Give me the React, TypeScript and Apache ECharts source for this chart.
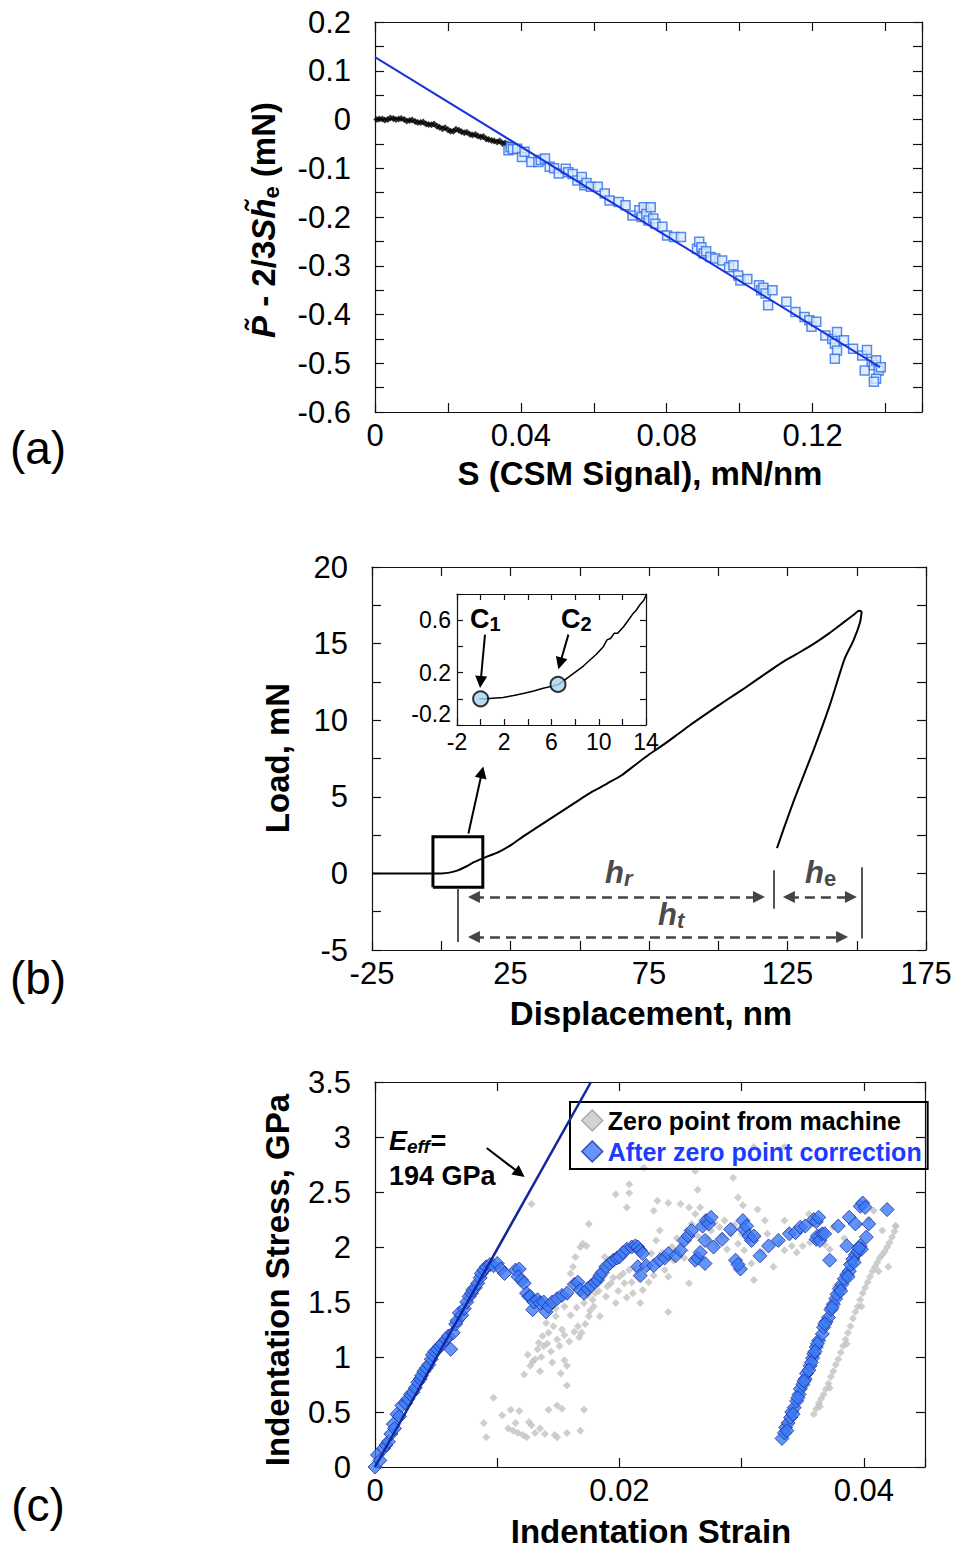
import React, { useEffect, useRef } from 'react';
import * as echarts from 'echarts';

const FONT = "'Liberation Sans', Arial, Helvetica, sans-serif";

// ---------- Panel (a) ----------
const aRawBlack1 = [
  [0.0005, 0.0], [0.002, 0.001], [0.0035, 0.0], [0.005, 0.002], [0.0065, 0.001], [0.008, 0.0],
  [0.0095, -0.002], [0.011, -0.004], [0.0125, -0.006], [0.014, -0.009], [0.0155, -0.011],
  [0.017, -0.014], [0.0185, -0.019], [0.02, -0.021], [0.0215, -0.024], [0.023, -0.022],
  [0.0245, -0.027], [0.026, -0.03], [0.0275, -0.031], [0.029, -0.036], [0.0305, -0.04],
  [0.032, -0.043], [0.0335, -0.046], [0.035, -0.049], [0.0365, -0.051], [0.0375, -0.05],
];
const aRawBlack2 = [
  [0.0012, 0.001], [0.0027, -0.001], [0.0042, 0.003], [0.0057, 0.0], [0.0072, 0.002], [0.0087, -0.003],
  [0.0102, -0.001], [0.0117, -0.006], [0.0132, -0.005], [0.0147, -0.01], [0.0162, -0.009],
  [0.0177, -0.016], [0.0192, -0.017], [0.0207, -0.024], [0.0222, -0.02], [0.0237, -0.025],
  [0.0252, -0.026], [0.0267, -0.032], [0.0282, -0.034], [0.0297, -0.035], [0.0312, -0.041],
  [0.0327, -0.044], [0.0342, -0.044], [0.0357, -0.048], [0.037, -0.053],
];
const aCorrected = [
  [0.0366, -0.063], [0.0372, -0.057], [0.0378, -0.061], [0.039, -0.06], [0.0403, -0.077], [0.041, -0.066],
  [0.0429, -0.087], [0.0448, -0.087], [0.0455, -0.083], [0.0466, -0.08], [0.0479, -0.097], [0.0491, -0.1],
  [0.0504, -0.111], [0.0523, -0.101], [0.053, -0.108], [0.0542, -0.112], [0.0555, -0.125], [0.0567, -0.118],
  [0.0574, -0.135], [0.058, -0.13], [0.0592, -0.138], [0.0611, -0.138], [0.063, -0.152], [0.0643, -0.166],
  [0.0668, -0.169], [0.0687, -0.176], [0.0706, -0.197], [0.0725, -0.186], [0.0731, -0.2], [0.0737, -0.18],
  [0.0744, -0.194], [0.075, -0.207], [0.0756, -0.18], [0.0763, -0.203], [0.0769, -0.214], [0.0788, -0.22],
  [0.0801, -0.238], [0.082, -0.241], [0.0839, -0.241], [0.0883, -0.265], [0.0889, -0.251], [0.0895, -0.262],
  [0.0901, -0.275], [0.0908, -0.27], [0.092, -0.282], [0.0933, -0.285], [0.0952, -0.289], [0.0971, -0.303],
  [0.0983, -0.299], [0.0996, -0.32], [0.1002, -0.33], [0.1021, -0.327], [0.1053, -0.34], [0.1059, -0.35],
  [0.1065, -0.345], [0.1071, -0.357], [0.1078, -0.381], [0.109, -0.35], [0.1128, -0.374], [0.1153, -0.395],
  [0.1178, -0.405], [0.1191, -0.412], [0.1197, -0.425], [0.121, -0.415], [0.1235, -0.443], [0.1254, -0.45],
  [0.1261, -0.46], [0.1267, -0.436], [0.1267, -0.474], [0.1261, -0.491], [0.1286, -0.453], [0.1311, -0.47],
  [0.1336, -0.484], [0.1349, -0.473], [0.1343, -0.515], [0.1362, -0.497], [0.1368, -0.504], [0.1374, -0.494],
  [0.1381, -0.515], [0.1374, -0.532], [0.1368, -0.538], [0.1387, -0.508],
];
const aFitLine = [[0, 0.128], [0.1385, -0.508]];

// ---------- Panel (b) ----------
const bLoadCurve = [
  [-25, 0], [-15, 0], [-5, 0], [0, 0], [3, 0.05], [6, 0.2], [9, 0.45], [12, 0.75], [15, 0.98], [18, 1.2],
  [21, 1.42], [25, 1.83], [30, 2.47], [35, 3.05], [40, 3.64], [45, 4.23], [50, 4.82], [55, 5.38],
  [60, 5.88], [65, 6.39], [70, 7.08], [75, 7.76], [80, 8.37], [85, 9.03], [90, 9.7], [95, 10.33],
  [100, 10.95], [105, 11.55], [110, 12.15], [115, 12.78], [120, 13.4], [125, 13.98], [130, 14.5],
  [135, 15.05], [140, 15.67], [145, 16.35], [149, 16.9], [150.8, 17.15], [151.8, 17.1],
];
const bUnloadCurve = [
  [151.8, 17.1], [151.2, 16.4], [148.8, 15.2], [145.6, 14.0], [140.3, 11.0], [134.3, 8.0],
  [127.8, 5.0], [123.8, 3.0], [121.2, 1.65],
];
const bZoomBox = [[-3, -0.9], [15, -0.9], [15, 2.4], [-3, 2.4], [-3, -0.9]];
const bZoomArrow = [[9.8, 2.6], [14.7, 6.6]];
const bHrArrow = [[11.8, -1.54], [114.7, -1.54]];
const bHeArrow = [[125.5, -1.54], [147.9, -1.54]];
const bHtArrow = [[11.8, -4.15], [144.7, -4.15]];
const bMarkerLeft = [[6.0, -0.95], [6.0, -4.48]];
const bMarkerMid = [[120.1, 0.2], [120.1, -2.3]];
const bMarkerRight = [[151.9, 0.4], [151.9, -4.25]];

// inset
const iCurve = [
  [-0.1, 0.0], [0.5, 0.0], [1.0, 0.005], [1.9, 0.01], [2.8, 0.025], [3.6, 0.04], [4.5, 0.06], [5.3, 0.08],
  [6.0, 0.095], [6.6, 0.11], [7.5, 0.17], [8.1, 0.21], [8.7, 0.25], [9.3, 0.3], [9.8, 0.34], [10.4, 0.4],
  [10.7, 0.45], [11.0, 0.46], [11.3, 0.5], [11.6, 0.5], [12.1, 0.55], [12.5, 0.6], [12.9, 0.65],
  [13.2, 0.68], [13.5, 0.72], [13.8, 0.75], [14.0, 0.79],
];
const iPoints = [[0, 0.0], [6.55, 0.11]];
const iArrowC1 = [[0.37, 0.49], [0.0, 0.128]];
const iArrowC2 = [[7.43, 0.49], [6.72, 0.27]];

// ---------- Panel (c) ----------
const cGrayLow = [
  [0.0089, 0.40], [0.0091, 0.27], [0.0097, 0.63], [0.0104, 0.47], [0.0109, 0.35], [0.0111, 0.52],
  [0.0115, 0.40], [0.0118, 0.51], [0.0117, 0.31], [0.0124, 0.27], [0.0126, 0.41], [0.0131, 0.31],
  [0.0135, 0.35], [0.0142, 0.52], [0.0149, 0.56], [0.0149, 0.27], [0.0157, 0.31], [0.0153, 0.53],
  [0.0168, 0.33], [0.0171, 0.52], [0.0113, 0.33], [0.0121, 0.29], [0.0128, 0.38], [0.0147, 0.29], [0.0139, 0.30],
];
const cGrayMid = [
  [0.0122, 0.84], [0.0127, 0.92], [0.0131, 0.98], [0.0135, 0.87], [0.0133, 1.07], [0.0138, 1.10], [0.0137, 1.19],
  [0.0142, 1.22], [0.0140, 1.31], [0.0146, 1.28], [0.0148, 1.37], [0.0149, 1.16], [0.0153, 1.25], [0.0155, 1.46],
  [0.0157, 0.92], [0.0157, 0.74], [0.0158, 1.55], [0.0160, 1.76], [0.0162, 1.82], [0.0164, 1.91], [0.0168, 2.00],
  [0.0170, 2.03], [0.0173, 2.01], [0.0162, 1.67], [0.0168, 1.58], [0.0171, 1.49], [0.0175, 1.37], [0.0169, 1.22],
  [0.0166, 1.28], [0.0179, 1.46], [0.0180, 1.58], [0.0182, 1.70], [0.0186, 1.82], [0.0188, 1.91], [0.0184, 1.37],
  [0.0189, 1.55], [0.0193, 1.67], [0.0197, 1.49], [0.0200, 1.73], [0.0204, 1.67], [0.0208, 1.79], [0.0211, 1.58],
  [0.0215, 1.73], [0.0219, 1.61], [0.0222, 1.85], [0.0226, 1.94], [0.0230, 2.06], [0.0233, 2.15], [0.0237, 1.79],
  [0.0240, 1.73], [0.0244, 1.88], [0.0248, 1.97], [0.0251, 2.03], [0.0255, 2.15], [0.0259, 2.21], [0.0262, 2.30],
  [0.0266, 2.36], [0.0270, 2.27], [0.0275, 2.15], [0.0279, 2.03], [0.0282, 2.18], [0.0286, 2.24], [0.0291, 2.12],
  [0.0297, 2.03], [0.0302, 1.97], [0.0308, 1.85], [0.0310, 1.70], [0.0313, 2.09], [0.0321, 2.12], [0.0326, 1.82],
  [0.0335, 1.97], [0.0341, 2.01], [0.0350, 2.01], [0.0377, 1.64], [0.0217, 1.49], [0.0240, 1.41], [0.0257, 1.67],
  [0.0136, 1.00], [0.0141, 1.12], [0.0144, 1.05], [0.0151, 1.10], [0.0155, 1.20], [0.0159, 1.14], [0.0163, 1.23],
  [0.0167, 1.18], [0.0172, 1.30], [0.0176, 1.42], [0.0178, 1.52], [0.0183, 1.60], [0.0190, 1.64], [0.0195, 1.72],
  [0.0199, 1.60], [0.0203, 1.76], [0.0206, 1.54], [0.0210, 1.68], [0.0213, 1.80], [0.0224, 1.68], [0.0228, 1.74],
  [0.0232, 1.90], [0.0235, 1.95], [0.0243, 2.00], [0.0247, 2.08], [0.0253, 1.90], [0.0264, 2.10], [0.0268, 2.20],
  [0.0272, 2.08], [0.0278, 2.22], [0.0284, 2.10], [0.0288, 1.98], [0.0294, 2.20], [0.0300, 2.12], [0.0304, 2.08],
  [0.0317, 1.95], [0.0331, 2.04], [0.0345, 1.95], [0.0356, 2.04], [0.0364, 2.14], [0.0368, 2.02], [0.0372, 1.98],
  [0.0384, 2.08], [0.0396, 2.20], [0.0375, 2.18], [0.0145, 0.95], [0.0129, 0.96], [0.0125, 1.02], [0.0134, 1.13],
  [0.0148, 1.44], [0.0160, 1.38], [0.0165, 1.45], [0.0174, 1.56], [0.0155, 0.97], [0.0152, 0.85],
];
const cGrayHigh = [
  [0.0128, 2.39], [0.0175, 2.21], [0.0197, 2.48], [0.0206, 2.36], [0.0208, 2.49], [0.0208, 2.57], [0.0220, 2.72],
  [0.0228, 2.33], [0.0240, 2.40], [0.0250, 2.39], [0.0257, 2.36], [0.0262, 2.69], [0.0264, 2.52], [0.0293, 2.63],
  [0.0297, 2.45], [0.0310, 2.91], [0.0313, 2.34], [0.0319, 2.24], [0.0335, 2.91], [0.0335, 2.24], [0.0404, 2.25],
  [0.0408, 2.33], [0.0415, 2.15], [0.0426, 2.19], [0.0231, 2.42], [0.0301, 2.38], [0.0355, 2.30],
];
const cGrayUnload = [
  [0.0359, 0.48], [0.0361, 0.53], [0.0363, 0.58], [0.0365, 0.62], [0.0367, 0.66], [0.0369, 0.71], [0.0371, 0.76],
  [0.0373, 0.82], [0.0375, 0.87], [0.0377, 0.93], [0.0379, 0.98], [0.0381, 1.04], [0.0383, 1.10], [0.0385, 1.16],
  [0.0387, 1.22], [0.0389, 1.28], [0.0391, 1.35], [0.0393, 1.41], [0.0395, 1.46], [0.0397, 1.52], [0.0399, 1.58],
  [0.0401, 1.63], [0.0403, 1.68], [0.0405, 1.73], [0.0407, 1.78], [0.0409, 1.82], [0.0411, 1.86], [0.0413, 1.90],
  [0.0415, 1.93], [0.0417, 1.96], [0.0419, 2.00], [0.0421, 2.04], [0.0423, 2.09], [0.0425, 2.14], [0.0426, 2.19],
  [0.0420, 1.82], [0.0412, 1.78], [0.0398, 1.46], [0.0386, 1.12], [0.0372, 0.72], [0.0364, 0.55],
];
const cBlueLoad = [
  [0, 0], [0.0002, 0.11], [0.0004, 0.06], [0.0007, 0.17], [0.0009, 0.2], [0.0011, 0.23], [0.0013, 0.3],
  [0.0015, 0.39], [0.0016, 0.35], [0.0018, 0.48], [0.002, 0.46], [0.0022, 0.56], [0.0025, 0.58], [0.0027, 0.62],
  [0.0029, 0.66], [0.0031, 0.68], [0.0033, 0.72], [0.0035, 0.77], [0.0037, 0.8], [0.0038, 0.83], [0.004, 0.87],
  [0.0042, 0.9], [0.0044, 0.93], [0.0046, 0.98], [0.0047, 1.02], [0.0049, 1.05], [0.0051, 1.07], [0.0053, 1.1],
  [0.0055, 1.12], [0.0058, 1.16], [0.0062, 1.07], [0.006, 1.19], [0.0064, 1.22], [0.0066, 1.3], [0.0067, 1.33],
  [0.0069, 1.4], [0.0071, 1.38], [0.0073, 1.44], [0.0075, 1.5], [0.0077, 1.55], [0.0079, 1.58], [0.008, 1.61],
  [0.0082, 1.63], [0.0084, 1.67], [0.0086, 1.72], [0.0087, 1.76], [0.0089, 1.79], [0.0091, 1.82], [0.0094, 1.84],
  [0.0097, 1.83], [0.01, 1.85], [0.0103, 1.8], [0.0106, 1.76],
];
const cBlueYield = [
  [0.0115, 1.79], [0.0118, 1.8], [0.0117, 1.73], [0.012, 1.7], [0.0122, 1.67], [0.0124, 1.58], [0.0126, 1.55],
  [0.0127, 1.55], [0.0129, 1.43], [0.013, 1.5], [0.0133, 1.52], [0.0135, 1.49], [0.0138, 1.5], [0.014, 1.41],
  [0.0142, 1.46], [0.0145, 1.5], [0.0149, 1.53], [0.0153, 1.56], [0.0157, 1.58], [0.0163, 1.66], [0.0166, 1.68],
  [0.0168, 1.61], [0.0171, 1.58], [0.0174, 1.62], [0.0177, 1.65], [0.018, 1.68], [0.0182, 1.7], [0.0184, 1.74],
  [0.0186, 1.77], [0.0189, 1.82], [0.0192, 1.85], [0.0195, 1.88], [0.0198, 1.9], [0.02, 1.91], [0.0203, 1.95],
  [0.0206, 1.98], [0.021, 2.0], [0.0213, 2.01], [0.0215, 2.0], [0.0217, 1.97], [0.0219, 1.94], [0.0215, 1.82],
  [0.0217, 1.74], [0.0222, 1.83], [0.0228, 1.83], [0.0233, 1.88], [0.0237, 1.9], [0.024, 1.94], [0.0246, 1.92],
  [0.025, 1.97], [0.0253, 2.06], [0.0256, 2.1], [0.0259, 2.15], [0.0262, 1.88], [0.0264, 1.9], [0.0266, 1.95],
  [0.0268, 2.19], [0.0271, 2.24], [0.0273, 2.21], [0.0275, 2.27], [0.027, 2.06], [0.027, 1.85], [0.0277, 2.0],
  [0.0284, 2.07], [0.0291, 2.16], [0.0295, 1.88], [0.0299, 1.8], [0.0297, 1.84], [0.0301, 2.24], [0.0302, 2.16],
  [0.0304, 2.19], [0.0306, 2.1], [0.0308, 2.06], [0.031, 2.1], [0.0315, 1.92], [0.0322, 2.01], [0.033, 2.06],
  [0.0339, 2.12], [0.0344, 2.13], [0.0348, 2.18], [0.0352, 2.19], [0.0359, 2.25], [0.0361, 2.23], [0.0363, 2.27],
  [0.0361, 2.07], [0.0362, 2.1], [0.0364, 2.06], [0.0366, 2.12], [0.0368, 2.12], [0.0372, 1.88], [0.0379, 2.19],
  [0.0386, 2.01], [0.0388, 2.27], [0.0393, 2.21], [0.0397, 2.37], [0.0399, 2.4], [0.0401, 2.36], [0.0404, 2.21],
  [0.0402, 2.09], [0.0419, 2.34],
];
const cBlueUnload = [
  [0.0333, 0.26], [0.0335, 0.31], [0.0336, 0.36], [0.0338, 0.4], [0.034, 0.45], [0.0341, 0.5], [0.0343, 0.54],
  [0.0345, 0.6], [0.0347, 0.66], [0.0348, 0.71], [0.035, 0.75], [0.0352, 0.8], [0.0353, 0.85], [0.0356, 0.92],
  [0.0358, 0.99], [0.0359, 1.03], [0.0361, 1.09], [0.0363, 1.15], [0.0366, 1.21], [0.0367, 1.27], [0.0369, 1.32],
  [0.0371, 1.36], [0.0373, 1.43], [0.0375, 1.48], [0.0377, 1.53], [0.0378, 1.57], [0.038, 1.62], [0.0382, 1.66],
  [0.0384, 1.71], [0.0386, 1.75], [0.0388, 1.78], [0.0389, 1.84], [0.0391, 1.89], [0.0393, 1.93], [0.0395, 1.96],
  [0.0397, 2.01], [0.0398, 1.98], [0.0337, 0.33], [0.0342, 0.48], [0.0346, 0.63], [0.0351, 0.78], [0.0357, 0.95],
  [0.0362, 1.12], [0.0368, 1.3], [0.0374, 1.45], [0.0381, 1.6], [0.0387, 1.73], [0.0392, 1.86], [0.0396, 1.99],
  [0.036, 1.05], [0.0355, 0.88],
];
const cModulusLine = [[0, 0], [0.01767, 3.5]];
const cModulusArrow = [[0.00914, 2.9], [0.01185, 2.669]];

const GRAY_NAME = 'Zero point from machine';
const BLUE_NAME = 'After zero point correction';

// ---------- helpers ----------
const isMult = (v: number, step: number, base = 0) => {
  const k = (v - base) / step;
  return Math.abs(k - Math.round(k)) < 1e-6;
};
const clean = (v: number) => String(+v.toFixed(4));

function axes(kind: 'x' | 'y', gridIndex: number, min: number, max: number, interval: number,
  fmt: (v: number) => string, fontSize: number, margin: number, tickLen: number, extraLabel: any = {}) {
  const line = { show: true, onZero: false, lineStyle: { color: '#111', width: 1.2 } };
  const tick = { show: true, inside: true, length: tickLen, lineStyle: { color: '#111', width: 1.2 } };
  const base = { type: 'value', gridIndex, min, max, interval, splitLine: { show: false }, axisLine: line, axisTick: tick, scale: true };
  const main = {
    ...base,
    position: kind === 'x' ? 'bottom' : 'left',
    axisLabel: { show: true, formatter: fmt, fontSize, fontFamily: FONT, color: '#000', margin, ...extraLabel },
  };
  const mirror = { ...base, position: kind === 'x' ? 'top' : 'right', axisLabel: { show: false } };
  return [main, mirror];
}

function txt(x: number, y: number, text: string, style: any, rotation = 0) {
  return {
    type: 'text', x, y, rotation, z: 100,
    style: {
      text, fill: '#000', fontFamily: FONT,
      textAlign: 'center', align: 'center', textVerticalAlign: 'middle', verticalAlign: 'middle',
      ...style,
    },
  };
}

function arrow(data: number[][], xi: number, color: string, width: number, symbol: any, dashed?: any) {
  return {
    type: 'lines', coordinateSystem: 'cartesian2d', xAxisIndex: xi, yAxisIndex: xi,
    symbol, symbolSize: 12, silent: true, z: 5,
    lineStyle: { color, width, opacity: 1, curveness: 0, type: dashed || 'solid' },
    data: [{ coords: data }],
  };
}

function buildOption() {
  const xs = [
    ...axes('x', 0, 0, 0.15, 0.02, (v) => (isMult(v, 0.04) ? clean(v) : ''), 31, 8, 9),
    ...axes('x', 1, -25, 175, 25, (v) => (isMult(v, 50, -25) ? clean(v) : ''), 31, 8, 9),
    ...axes('x', 2, -2, 14, 2, (v) => (isMult(v, 4, -2) ? clean(v) : ''), 23, 5, 6),
    ...axes('x', 3, 0, 0.045, 0.01, (v) => (isMult(v, 0.02) ? clean(v) : ''), 31, 8, 9),
  ];
  const ys = [
    ...axes('y', 0, -0.6, 0.2, 0.05, (v) => (isMult(v, 0.1) ? clean(v) : ''), 31, 24, 9),
    ...axes('y', 1, -5, 20, 2.5, (v) => (isMult(v, 5) ? clean(v) : ''), 31, 24, 9),
    ...axes('y', 2, -0.2, 0.8, 0.2, (v) => (isMult(v, 0.4, -0.2) ? clean(v) : ''), 23, 6, 6, { verticalAlignMinLabel: 'bottom' }),
    ...axes('y', 3, 0, 3.5, 0.5, (v) => clean(v), 31, 24, 9),
  ];

  const bold = { fontSize: 33, fontWeight: 'bold' };
  const rb = { fontSize: 33, fontWeight: 'bold', fontFamily: FONT, lineHeight: 38 };
  const rbi = { ...rb, fontStyle: 'italic' };
  const rsub = { fontSize: 22, fontWeight: 'bold', fontFamily: FONT, lineHeight: 8, verticalAlign: 'bottom' };

  const hStyle = (x: number, y: number, sub: string, subItalic: boolean) => ({
    type: 'text', x, y, z: 100,
    style: {
      text: `{h|h}{s|${sub}}`, textAlign: 'left', align: 'left', textVerticalAlign: 'middle', verticalAlign: 'middle',
      rich: {
        h: { fontSize: 31, fontWeight: 'bold', fontStyle: 'italic', fontFamily: FONT, fill: '#4a4a4a', color: '#4a4a4a', lineHeight: 34 },
        s: { fontSize: 22, fontWeight: 'bold', fontStyle: subItalic ? 'italic' : 'normal', fontFamily: FONT, fill: '#4a4a4a', color: '#4a4a4a', lineHeight: 8, verticalAlign: 'bottom' },
      },
    },
  });
  const cLabel = (x: number, y: number, sub: string) => ({
    type: 'text', x, y, z: 100,
    style: {
      text: `{c|C}{s|${sub}}`, textAlign: 'left', align: 'left', textVerticalAlign: 'middle', verticalAlign: 'middle',
      rich: {
        c: { fontSize: 27, fontWeight: 'bold', fontFamily: FONT, fill: '#000', color: '#000', lineHeight: 30 },
        s: { fontSize: 20, fontWeight: 'bold', fontFamily: FONT, fill: '#000', color: '#000', lineHeight: 6, verticalAlign: 'bottom' },
      },
    },
  });

  const graphic = [
    txt(38, 448, '(a)', { fontSize: 46 }),
    txt(38, 978, '(b)', { fontSize: 46 }),
    txt(38, 1505, '(c)', { fontSize: 46 }),
    txt(640, 473, 'S (CSM Signal), mN/nm', bold),
    txt(651, 1013, 'Displacement, nm', bold),
    txt(651, 1531, 'Indentation Strain', bold),
    txt(277, 758, 'Load, mN', bold, Math.PI / 2),
    txt(277, 1280, 'Indentation Stress, GPa', bold, Math.PI / 2),
    {
      type: 'text', x: 263, y: 220, rotation: Math.PI / 2, z: 100,
      style: {
        text: '{bi|P\u0303}{b| - 2/3}{bi|Sh\u0303}{s|e}{b| (mN)}',
        textAlign: 'center', align: 'center', textVerticalAlign: 'middle', verticalAlign: 'middle',
        rich: { b: rb, bi: rbi, s: rsub },
      },
    },
    hStyle(605, 872, 'r', true),
    hStyle(805, 872, 'e', false),
    hStyle(658, 914, 't', true),
    cLabel(470, 619, '1'),
    cLabel(561, 619, '2'),
    {
      type: 'text', x: 389, y: 1141, z: 100,
      style: {
        text: '{e|E}{s|eff}{e|=}', textAlign: 'left', align: 'left', textVerticalAlign: 'middle', verticalAlign: 'middle',
        rich: {
          e: { fontSize: 27, fontWeight: 'bold', fontStyle: 'italic', fontFamily: FONT, fill: '#000', color: '#000', lineHeight: 30 },
          s: { fontSize: 19, fontWeight: 'bold', fontStyle: 'italic', fontFamily: FONT, fill: '#000', color: '#000', lineHeight: 8, verticalAlign: 'bottom' },
        },
      },
    },
    { type: 'text', x: 389, y: 1176, z: 100, style: { text: '194 GPa', fontSize: 27, fontWeight: 'bold', fontFamily: FONT, fill: '#000', textAlign: 'left', align: 'left', textVerticalAlign: 'middle', verticalAlign: 'middle' } },
  ];

  const series: any[] = [
    // (a)
    { type: 'scatter', xAxisIndex: 0, yAxisIndex: 0, symbol: 'diamond', symbolSize: 7, itemStyle: { color: '#000' }, data: aRawBlack1, z: 3 },
    { type: 'scatter', xAxisIndex: 0, yAxisIndex: 0, symbol: 'diamond', symbolSize: 7, itemStyle: { color: '#000' }, data: aRawBlack2, z: 3 },
    { type: 'scatter', xAxisIndex: 0, yAxisIndex: 0, symbol: 'rect', symbolSize: 9, itemStyle: { color: '#dae8ff', borderColor: '#2f6fe6', borderWidth: 1.5 }, data: aCorrected, z: 3 },
    { type: 'line', xAxisIndex: 0, yAxisIndex: 0, showSymbol: false, symbol: 'none', lineStyle: { color: '#1a33d9', width: 2 }, data: aFitLine, z: 4 },
    // (b)
    { type: 'line', xAxisIndex: 2, yAxisIndex: 2, symbol: 'none', smooth: 0.2, lineStyle: { color: '#000', width: 2 }, data: bLoadCurve, z: 3 },
    { type: 'line', xAxisIndex: 2, yAxisIndex: 2, symbol: 'none', smooth: 0.2, lineStyle: { color: '#000', width: 2 }, data: bUnloadCurve, z: 3 },
    { type: 'line', xAxisIndex: 2, yAxisIndex: 2, symbol: 'none', lineStyle: { color: '#000', width: 3, join: 'miter' }, data: bZoomBox, z: 4 },
    arrow(bZoomArrow, 2, '#000', 2, ['none', 'triangle']),
    arrow(bHrArrow, 2, '#444', 2.5, ['triangle', 'triangle'], [10, 6]),
    arrow(bHeArrow, 2, '#444', 2.5, ['triangle', 'triangle'], [10, 6]),
    arrow(bHtArrow, 2, '#444', 2.5, ['triangle', 'triangle'], [10, 6]),
    arrow(bMarkerLeft, 2, '#555', 2, ['none', 'none']),
    arrow(bMarkerMid, 2, '#555', 2, ['none', 'none']),
    arrow(bMarkerRight, 2, '#555', 2, ['none', 'none']),
    // inset
    { type: 'line', xAxisIndex: 4, yAxisIndex: 4, symbol: 'none', lineStyle: { color: '#000', width: 1.5 }, data: iCurve, z: 3 },
    { type: 'scatter', xAxisIndex: 4, yAxisIndex: 4, symbol: 'circle', symbolSize: 15, itemStyle: { color: '#a8d3f3', borderColor: '#000', borderWidth: 2 }, data: iPoints, z: 6 },
    arrow(iArrowC1, 4, '#000', 2, ['none', 'triangle']),
    arrow(iArrowC2, 4, '#000', 2, ['none', 'triangle']),
    // (c)
    { type: 'scatter', name: GRAY_NAME, xAxisIndex: 6, yAxisIndex: 6, symbol: 'diamond', symbolSize: 8, itemStyle: { color: '#c2c2c2' }, data: [...cGrayLow, ...cGrayMid, ...cGrayHigh, ...cGrayUnload], z: 3 },
    { type: 'scatter', name: BLUE_NAME, xAxisIndex: 6, yAxisIndex: 6, symbol: 'diamond', symbolSize: 14, itemStyle: { color: '#3c7cf6', borderColor: '#1d2c9c', borderWidth: 1 }, data: [...cBlueLoad, ...cBlueYield, ...cBlueUnload], z: 4 },
    { type: 'line', xAxisIndex: 6, yAxisIndex: 6, symbol: 'none', lineStyle: { color: '#14259e', width: 2.5 }, data: cModulusLine, z: 5 },
    arrow(cModulusArrow, 6, '#000', 2, ['none', 'triangle']),
  ];

  return {
    animation: false,
    backgroundColor: '#fff',
    textStyle: { fontFamily: FONT },
    grid: [
      { left: 375, top: 22, width: 547, height: 390, show: false, outerBoundsMode: 'none' },
      { left: 372, top: 567, width: 554, height: 383, show: false, outerBoundsMode: 'none' },
      { left: 457, top: 594, width: 189, height: 131, show: true, backgroundColor: '#fff', borderWidth: 0, outerBoundsMode: 'none' },
      { left: 375, top: 1082, width: 550, height: 385, show: false, outerBoundsMode: 'none' },
    ],
    xAxis: xs,
    yAxis: ys,
    legend: {
      show: true, left: 570, top: 1102, orient: 'vertical',
      itemWidth: 21, itemHeight: 21, itemGap: 6, itemTextGap: 8,
      padding: [6, 6, 5, 11], borderColor: '#000', borderWidth: 2, borderRadius: 0,
      textStyle: { fontSize: 25, fontWeight: 'bold', fontFamily: FONT, color: '#000' },
      selectedMode: false,
      data: [
        { name: GRAY_NAME, icon: 'diamond', itemStyle: { color: '#c8c8c8', borderColor: '#9a9a9a', borderWidth: 1.5 } },
        { name: BLUE_NAME, icon: 'diamond', textStyle: { color: '#1a3cff' }, itemStyle: { color: '#3c7cf6', borderColor: '#1d2c9c', borderWidth: 1.5 } },
      ],
    },
    graphic,
    series,
  };
}

export default function App() {
  const ref = useRef<HTMLDivElement>(null);
  useEffect(() => {
    if (!ref.current) return;
    const chart = echarts.init(ref.current, null, { renderer: 'svg', width: 957, height: 1548 });
    chart.setOption(buildOption() as any);
    return () => chart.dispose();
  }, []);
  return (
    <div
      ref={ref}
      style={{ position: 'absolute', left: 0, top: 0, width: 957, height: 1548, background: '#fff' }}
    />
  );
}
